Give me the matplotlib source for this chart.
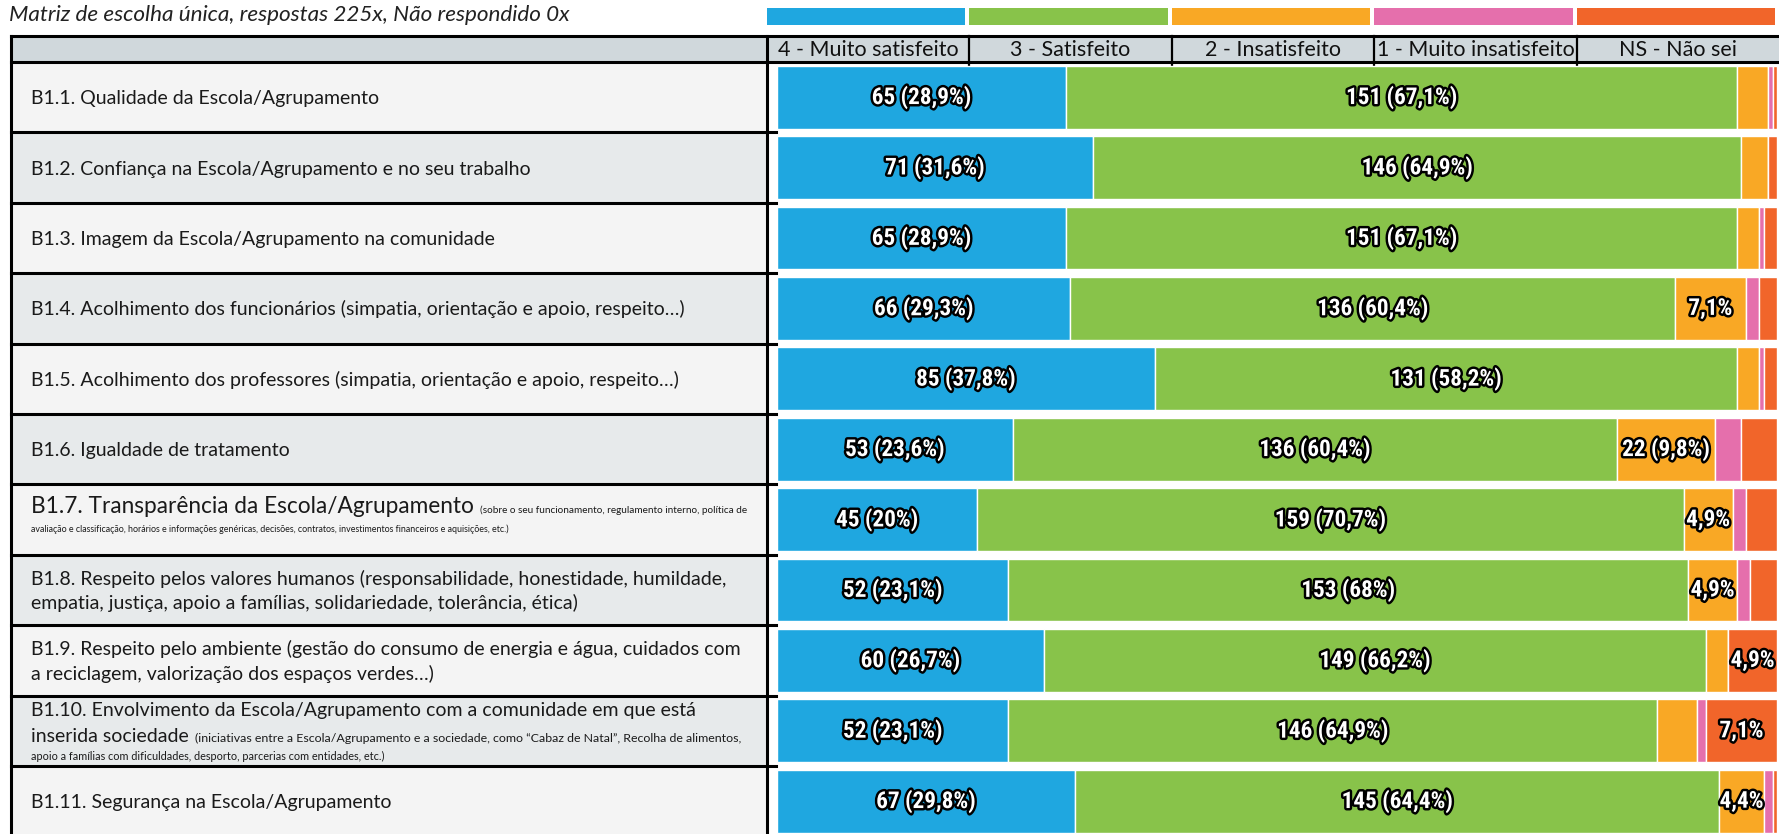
import matplotlib
matplotlib.use('Agg')
import matplotlib.pyplot as plt
import matplotlib.patheffects as pe
from matplotlib import font_manager
from matplotlib.patches import Rectangle
import numpy as np

# Data
title = 'Matriz de escolha única, respostas 225x, Não respondido 0x'
categories = ['4 - Muito satisfeito', '3 - Satisfeito', '2 - Insatisfeito',
              '1 - Muito insatisfeito', 'NS - Não sei']
total = 225

muito_satisfeito = [65, 71, 65, 66, 85, 53, 45, 52, 60, 52, 67]
satisfeito       = [151, 146, 151, 136, 131, 136, 159, 153, 149, 146, 145]
insatisfeito     = [7, 6, 5, 16, 5, 22, 11, 11, 5, 9, 10]
muito_insat      = [1, 0, 1, 3, 1, 6, 3, 3, 0, 2, 2]
nao_sei          = [1, 2, 3, 4, 3, 8, 7, 6, 11, 16, 1]

# each row: list of lines, each line: list of (text, size key)
row_labels = [
    [[('B1.1. Qualidade da Escola/Agrupamento', 'big')]],
    [[('B1.2. Confiança na Escola/Agrupamento e no seu trabalho', 'big')]],
    [[('B1.3. Imagem da Escola/Agrupamento na comunidade', 'big')]],
    [[('B1.4. Acolhimento dos funcionários (simpatia, orientação e apoio, respeito…)', 'big')]],
    [[('B1.5. Acolhimento dos professores (simpatia, orientação e apoio, respeito…)', 'big')]],
    [[('B1.6. Igualdade de tratamento', 'big')]],
    [[('B1.7. Transparência da Escola/Agrupamento', 'big7'),
      ('(sobre o seu funcionamento, regulamento interno, política de', 'small7a')],
     [('avaliação e classificação, horários e informações genéricas, decisões, contratos, '
       'investimentos financeiros e aquisições, etc.)', 'small7b')]],
    [[('B1.8. Respeito pelos valores humanos (responsabilidade, honestidade, humildade,', 'big')],
     [('empatia, justiça, apoio a famílias, solidariedade, tolerância, ética)', 'big')]],
    [[('B1.9. Respeito pelo ambiente (gestão do consumo de energia e água, cuidados com', 'big')],
     [('a reciclagem, valorização dos espaços verdes…)', 'big')]],
    [[('B1.10. Envolvimento da Escola/Agrupamento com a comunidade em que está', 'big')],
     [('inserida sociedade', 'big'),
      ('(iniciativas entre a Escola/Agrupamento e a sociedade, como “Cabaz de Natal”, '
       'Recolha de alimentos,', 'small10a')],
     [('apoio a famílias com dificuldades, desporto, parcerias com entidades, etc.)', 'small10b')]],
    [[('B1.11. Segurança na Escola/Agrupamento', 'big')]],
]

# Style
colors = ['#1fa7e0', '#88c34a', '#f9a825', '#e56fac', '#f1652a']
entries = font_manager.fontManager.ttflist
installed = {f.name for f in entries}
text_font = ['Lato', 'DejaVu Sans'] if 'Lato' in installed else ['DejaVu Sans']
plt.rcParams['font.family'] = text_font
sizes = {'big': 14, 'big7': 16.3, 'small7a': 7.2, 'small7b': 6.4,
         'small10a': 8.9, 'small10b': 7.8}

# narrow bold font for the bar labels (use a condensed face if one exists)
label_kw = dict(family=text_font, fontweight='bold')
for nm in ['Roboto Condensed', 'Liberation Sans Narrow', 'Open Sans Condensed',
           'Noto Sans Condensed', 'DejaVu Sans Condensed']:
    if nm in installed:
        label_kw = dict(family=[nm, 'DejaVu Sans'], fontweight='bold')
        break
else:
    for nm in ['Roboto', 'Noto Sans', 'Open Sans', 'DejaVu Sans']:
        if any(f.name == nm and 'condensed' in str(f.stretch) for f in entries):
            label_kw = dict(family=[nm, 'DejaVu Sans'], fontweight='bold',
                            fontstretch='condensed')
            break

W, H = 1779, 834
fig = plt.figure(figsize=(W / 100, H / 100), dpi=100)
renderer = fig.canvas.get_renderer()


def px_axes(x0, y0, x1, y1):
    return fig.add_axes([x0 / W, 1 - y1 / H, (x1 - x0) / W, (y1 - y0) / H])


# layout (pixels)
tab_left, tab_split = 11, 767
head_top, top = 36, 62
rh = 70.4
n = len(muito_satisfeito)
col_w = (W - tab_split) / len(categories)

# background / table
bg = fig.add_axes([0, 0, 1, 1])
bg.set_xlim(0, W)
bg.set_ylim(H, 0)
bg.axis('off')

bg.text(9, 15, title, fontsize=16.2, style='italic', color='#222222', va='center')

bg.add_patch(Rectangle((tab_left, head_top), W - tab_left, top - head_top,
                       fc='#d0d8dc', ec='none'))
for i in range(n):
    fc = '#f4f4f4' if i % 2 == 0 else '#e7eaeb'
    bg.add_patch(Rectangle((tab_left, top + i * rh), tab_split - tab_left, rh, fc=fc, ec='none'))

lw = 2.2
bg.plot([tab_left, W], [head_top, head_top], color='black', lw=lw)
bg.plot([tab_left, W], [top, top], color='black', lw=lw)
bg.plot([tab_left, tab_left], [head_top, H], color='black', lw=lw)
bg.plot([tab_split, tab_split], [head_top, H], color='black', lw=lw)
for k in range(1, len(categories)):
    xk = tab_split + k * col_w
    bg.plot([xk, xk], [head_top, top + 3], color='black', lw=1.6)
for i in range(1, n):
    yi = top + i * rh
    bg.plot([tab_left, tab_split + 9], [yi, yi], color='black', lw=lw)

for k, cat in enumerate(categories):
    bg.text(tab_split + (k + 0.5) * col_w, (head_top + top) / 2 + 1, cat,
            fontsize=15.5, ha='center', va='center', color='#111111')

# row labels
line_offsets = {1: [0], 2: [-12.5, 12.5], 3: [-22, 4, 26]}
special_offsets = {6: [-14, 9]}
for i, lines in enumerate(row_labels):
    cy = top + (i + 0.5) * rh
    offs = special_offsets.get(i, line_offsets[len(lines)])
    for line, off in zip(lines, offs):
        big = any(s.startswith('big') for _, s in line)
        base = cy + off + (7 if big else 3)
        x = 31
        for txt, s in line:
            t = bg.text(x, base, txt, fontsize=sizes[s], va='baseline', ha='left',
                        color='#1a1a1a')
            x = t.get_window_extent(renderer).x1 + 6

# legend
lg = px_axes(tab_split, 8, W, 25)
lg.bar(np.arange(len(categories)), np.ones(len(categories)), width=0.98,
       align='edge', color=colors)
lg.set_xlim(0, len(categories))
lg.set_ylim(0, 1)
lg.axis('off')

# size the bar labels so that "65 (28,9%)" is about 100 px wide
probe = fig.text(0, 0, '65 (28,9%)', fontsize=20, **label_kw)
label_size = min(18, 20 * 100 / probe.get_window_extent(renderer).width)
probe.remove()

# stacked bars
ax = px_axes(777, top, 1777, top + n * rh)
ax.set_xlim(0, total)
ax.set_ylim(n - 0.5, -0.5)
ax.axis('off')
series = [muito_satisfeito, satisfeito, insatisfeito, muito_insat, nao_sei]
y = np.arange(n)
left = np.zeros(n)
for vals, c in zip(series, colors):
    vals = np.array(vals)
    ax.barh(y, vals, left=left, height=0.89, color=c, edgecolor='white', linewidth=1)
    for yi, (l, v) in enumerate(zip(left, vals)):
        if v < 10:
            continue
        pct = f'{v / total * 100:.1f}'.replace('.0', '').replace('.', ',') + '%'
        lab = f'{v} ({pct})' if v >= 20 else pct
        ax.text(l + v / 2, yi, lab, ha='center', va='center', color='white',
                fontsize=label_size, clip_on=False,
                path_effects=[pe.withStroke(linewidth=3.5, foreground='black')],
                **label_kw)
    left = left + vals

fig.savefig('out.png', dpi=100)
